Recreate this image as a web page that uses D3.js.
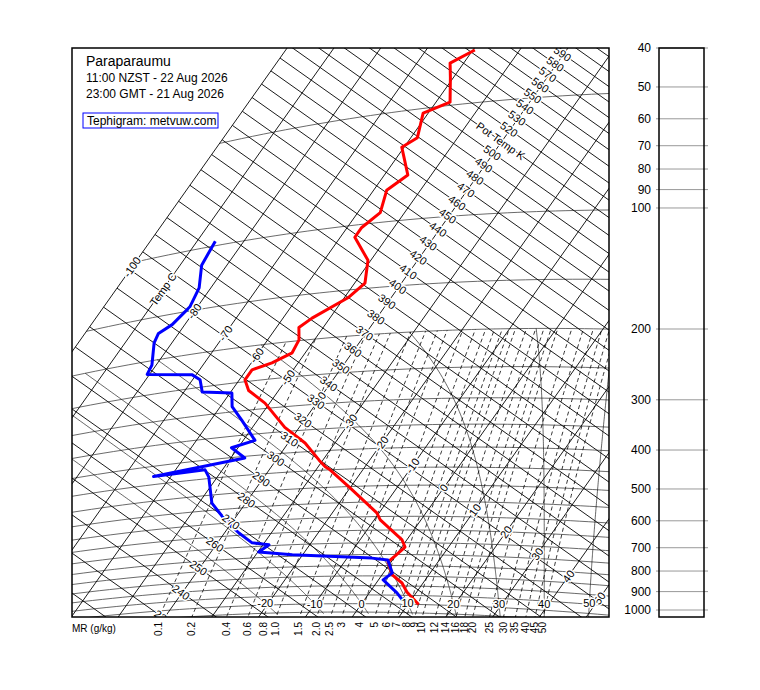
<!DOCTYPE html>
<html>
<head>
<meta charset="utf-8">
<script src="https://cdn.jsdelivr.net/npm/d3@7"></script>
<style>
  body { margin: 0; background: #fff; }
  text { font-family: "Liberation Sans", Arial, sans-serif; }
  .lbl { font-size: 11px; fill: #000; stroke: #fff; stroke-width: 3px; paint-order: stroke; }
</style>
</head>
<body>
<svg id="chart" width="760" height="690"></svg>
<script>
// ---- DATA ----
const station = "Paraparaumu";
const timeLocal = "11:00 NZST - 22 Aug 2026";
const timeGmt = "23:00 GMT - 21 Aug 2026";

// temperature sounding: pressure (hPa), temperature (C)
const tempP = [1000, 932, 885, 845, 783, 757, 718, 689, 612, 587, 504, 450, 441, 423, 379, 341, 290, 265, 247, 233, 226, 215, 199, 184, 175, 157, 145, 126, 108, 102, 94, 82, 75.5, 63, 60, 51.5, 49, 42, 38.2, 35.8];
const tempT = [12.3, 7.9, 5.5, 2.2, -0.7, -0.1, 0.7, -1.0, -8.7, -10.5, -20.0, -27.0, -28.5, -30.8, -36.4, -43.1, -51.0, -56.4, -58.8, -58.8, -55.6, -52.8, -53.3, -55.2, -53.8, -49.1, -47.8, -50.6, -56.9, -56.9, -55.2, -57.2, -55.0, -60.5, -58.6, -61.1, -57.0, -60.6, -62.9, -59.6];

// dew point sounding
const dewP = [1000, 937, 870, 835, 775, 766, 744, 725, 696, 684, 641, 587, 526, 446, 425, 427, 404, 376, 364, 318, 290, 266, 258, 238, 229, 218, 206, 178, 168, 161, 146, 130, 112, 97];
const dewT = [9.5, 5.9, 1.0, 1.9, -1.0, -4.7, -22.2, -29.8, -28.7, -32.6, -36.9, -41.9, -47.2, -51.8, -53.7, -63.7, -47.0, -51.4, -47.5, -53.4, -57.5, -59.6, -66.1, -68.4, -70.8, -80.5, -80.9, -83.8, -84.3, -82.7, -81.6, -82.5, -85.4, -86.1];

const isotherms = d3.range(-100, 61, 10);
const adiabats = d3.range(200, 701, 10);
const isobars = d3.range(1050, 99, -50).concat([50]);
const mixRatios = [0.1, 0.2, 0.4, 0.6, 0.8, 1.0, 1.5, 2.0, 2.5, 3, 4, 5, 6, 7, 8, 9, 10, 12, 14, 16, 18, 20, 25, 30, 35, 40, 45, 50];
const mrLabels = ["0.1", "0.2", "0.4", "0.6", "0.8", "1.0", "1.5", "2.0", "2.5", "3", "4", "5", "6", "7", "8", "9", "10", "12", "14", "16", "18", "20", "25", "30", "35", "40", "45", "50"];
const satAdiabats = [-20, -10, 0, 10, 20, 30, 40, 50];
const isoLabels = [-100, -80, -70, -60, -50, -40, -30, -20, -10, 0, 10, 20, 30, 40, 50];
const thetaLabels = d3.range(230, 591, 10).filter(d => d !== 510);
const pressTicks = [40, 50, 60, 70, 80, 90, 100, 200, 300, 400, 500, 600, 700, 800, 900, 1000];

// ---- LAYOUT ----
const plot = { left: 72, top: 48, right: 609, bottom: 617 };
const panel = { left: 659, right: 704 };
const origin = [132, 267];        // screen point of T=-100 C on theta=331.5 K
const eT = [0.816, 0.578], eTh = [0.578, -0.816];

const tScale = d3.scaleLinear().domain([-100, 50]).range([0, 573]);
const thScale = d3.scaleLog().domain([331.5, 331.5 * Math.E]).range([0, 733.6]);
const pScale = d3.scaleLog().domain([40, 1000]).range([48, 610]);

function xy(T, th) {
  const a = tScale(T), b = thScale(th);
  return [origin[0] + a * eT[0] + b * eTh[0], origin[1] + a * eT[1] + b * eTh[1]];
}
const thetaOf = (T, p) => (T + 273.15) * Math.pow(1000 / p, 0.2857);
const xyTP = (T, p) => xy(T, thetaOf(T, p));
const es = T => 6.112 * Math.exp(17.67 * T / (T + 243.5));
function tFromMR(w, p) {
  const e = w * p / (622 + w), l = Math.log(e / 6.112);
  return 243.5 * l / (17.67 - l);
}
function satLine(tw) {
  const Rd = 287, cp = 1004, Lv = 2.5e6, eps = 0.622;
  const step = (T, p, dp) => {
    const Tk = T + 273.15, e = es(T), rs = eps * e / (p - e);
    return T + dp * (Rd * Tk + Lv * rs) / (p * (cp + Lv * Lv * rs * eps / (Rd * Tk * Tk)));
  };
  const pts = [];
  let T = tw;
  for (let p = 1000; p >= 200; p -= 5) { pts.push([T, p]); T = step(T, p, -5); }
  const low = [];
  T = tw;
  for (let p = 1000; p < 1060; p += 5) { T = step(T, p, 5); low.push([T, p + 5]); }
  return low.reverse().concat(pts);
}

const svg = d3.select("#chart");
const line = d3.line();

svg.append("defs").append("clipPath").attr("id", "clip")
  .append("rect").attr("x", plot.left).attr("y", plot.top)
  .attr("width", plot.right - plot.left).attr("height", plot.bottom - plot.top);

const g = svg.append("g").attr("clip-path", "url(#clip)");

// isobars
g.selectAll("path.isobar").data(isobars).join("path")
  .attr("fill", "none").attr("stroke", "#444").attr("stroke-width", 0.8)
  .attr("d", p => line(d3.range(-100, 80.1, 2).map(T => xyTP(T, p))));

// isotherms
g.selectAll("path.isotherm").data(isotherms).join("path")
  .attr("fill", "none").attr("stroke", "#000").attr("stroke-width", 0.9)
  .attr("d", T => line([xy(T, 150), xy(T, 900)]));

// dry adiabats (start at -100 C)
g.selectAll("path.adiabat").data(adiabats).join("path")
  .attr("fill", "none").attr("stroke", "#000").attr("stroke-width", 0.9)
  .attr("d", th => line([xy(-100, th), xy(90, th)]));

// mixing ratio lines
g.selectAll("path.mr").data(mixRatios).join("path")
  .attr("fill", "none").attr("stroke", "#000").attr("stroke-width", 0.8)
  .attr("stroke-dasharray", "4,3")
  .attr("d", w => line(d3.range(1060, 199, -10).map(p => xyTP(tFromMR(w, p), p))));

// saturated adiabats
g.selectAll("path.sat").data(satAdiabats).join("path")
  .attr("fill", "none").attr("stroke", "#000").attr("stroke-width", 0.6)
  .attr("d", tw => line(satLine(tw).map(d => xyTP(d[0], d[1]))));

// labels on grid
const lab = svg.append("g").attr("clip-path", "url(#clip)");
isoLabels.forEach(T => {
  const [x, y] = xy(T, 331.5);
  lab.append("text").attr("class", "lbl").attr("text-anchor", "middle")
    .attr("transform", `translate(${x},${y}) rotate(-54.7)`).attr("dy", 4).text(T);
});
{
  const [x, y] = xy(-90, 331.5);
  lab.append("text").attr("class", "lbl").attr("text-anchor", "middle")
    .attr("transform", `translate(${x},${y}) rotate(-54.7)`).attr("dy", 4).text("Temp C");
}
thetaLabels.forEach(th => {
  const [x, y] = xy(-40.3, th);
  lab.append("text").attr("class", "lbl").attr("text-anchor", "middle")
    .attr("transform", `translate(${x},${y}) rotate(35.3)`).attr("dy", 4).text(th);
});
{
  const [x, y] = xy(-40.3, 510);
  lab.append("text").attr("class", "lbl").attr("text-anchor", "middle")
    .attr("transform", `translate(${x},${y}) rotate(35.3)`).attr("dy", 4).text("Pot Temp K");
}
satAdiabats.forEach(tw => {
  const pts = satLine(tw).map(d => xyTP(d[0], d[1]));
  let pt = pts.find(q => q[1] <= 604 && q[0] <= 598) || pts[0];
  lab.append("text").attr("class", "lbl").attr("text-anchor", "middle")
    .attr("x", pt[0]).attr("y", pt[1]).attr("dy", 4).text(tw);
});

// mixing ratio labels at bottom
mixRatios.forEach((w, i) => {
  const pts = d3.range(1000, 1150, 1).map(p => xyTP(tFromMR(w, p), p));
  const pt = d3.least(pts, q => Math.abs(q[1] - plot.bottom));
  svg.append("text").attr("font-size", 10).attr("text-anchor", "end")
    .attr("transform", `translate(${pt[0] + 3},${plot.bottom + 5}) rotate(-90)`)
    .text(mrLabels[i]);
});
svg.append("text").attr("x", plot.left).attr("y", 632).attr("font-size", 10).text("MR (g/kg)");

// soundings
g.append("path").attr("fill", "none").attr("stroke", "#ff0000").attr("stroke-width", 3)
  .attr("stroke-linejoin", "round")
  .attr("d", line(tempP.map((p, i) => xyTP(tempT[i], p))));
g.append("path").attr("fill", "none").attr("stroke", "#0000ff").attr("stroke-width", 3)
  .attr("stroke-linejoin", "round")
  .attr("d", line(dewP.map((p, i) => xyTP(dewT[i], p))));

// frame
svg.append("rect").attr("x", plot.left).attr("y", plot.top)
  .attr("width", plot.right - plot.left).attr("height", plot.bottom - plot.top)
  .attr("fill", "none").attr("stroke", "#000").attr("stroke-width", 1.5);

// title block
svg.append("text").attr("x", 86).attr("y", 66).attr("font-size", 14).text(station);
svg.append("text").attr("x", 86).attr("y", 82).attr("font-size", 12).text(timeLocal);
svg.append("text").attr("x", 86).attr("y", 98).attr("font-size", 12).text(timeGmt);
svg.append("rect").attr("x", 83).attr("y", 113).attr("width", 135).attr("height", 15)
  .attr("fill", "#fff").attr("stroke", "#0000ff").attr("stroke-width", 1);
svg.append("text").attr("x", 87).attr("y", 125).attr("font-size", 12).text("Tephigram: metvuw.com");

// right pressure panel
const rp = svg.append("g");
rp.selectAll("line").data(pressTicks).join("line")
  .attr("x1", 656).attr("x2", 708)
  .attr("y1", d => pScale(d)).attr("y2", d => pScale(d))
  .attr("stroke", "#999").attr("stroke-width", 1);
rp.selectAll("text").data(pressTicks).join("text")
  .attr("x", 651).attr("y", d => pScale(d) + 4).attr("font-size", 12)
  .attr("text-anchor", "end").text(d => d);
rp.append("rect").attr("x", panel.left).attr("y", plot.top)
  .attr("width", panel.right - panel.left).attr("height", plot.bottom - plot.top)
  .attr("fill", "none").attr("stroke", "#000").attr("stroke-width", 1.5);
</script>
</body>
</html>
